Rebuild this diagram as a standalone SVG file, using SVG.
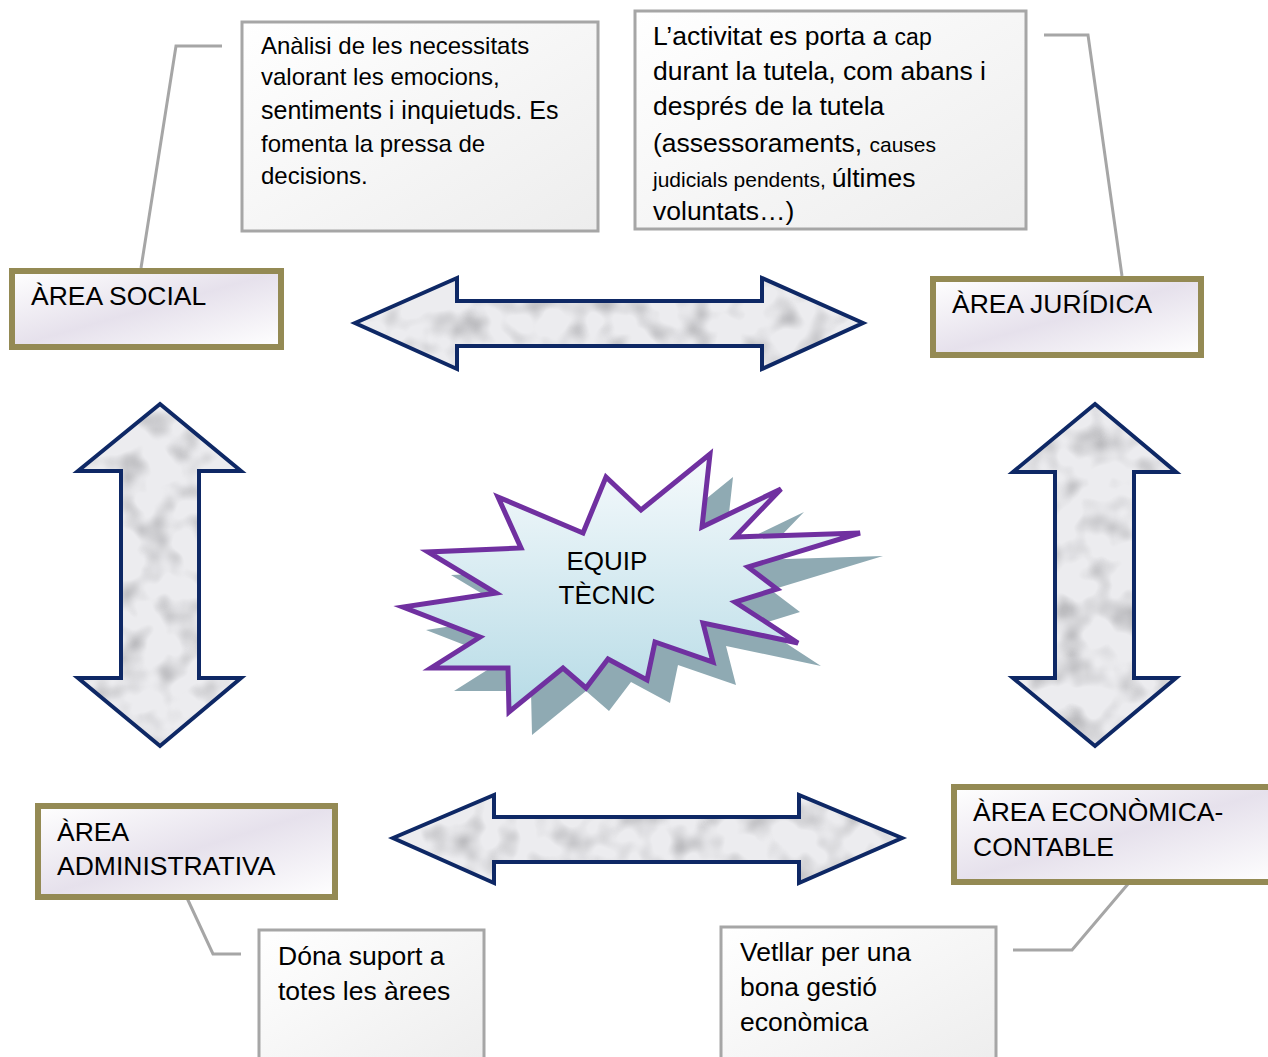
<svg xmlns="http://www.w3.org/2000/svg" width="1268" height="1057" viewBox="0 0 1268 1057">
<defs>
<style>
text{font-family:"Liberation Sans",Arial,sans-serif;fill:#000}
.tb{stroke:#A6A6A6;stroke-width:3;fill:url(#tbg)}
.ab{stroke:#948A54;stroke-width:6;fill:url(#abg)}
.conn{fill:none;stroke:#A6A6A6;stroke-width:3}
.arf{fill:#ECECEF;stroke:none;filter:url(#marble)}
.ars{fill:none;stroke:#0E2865;stroke-width:4;stroke-linejoin:miter}
</style>
<linearGradient id="tbg" x1="0" y1="0" x2="1" y2="1">
<stop offset="0" stop-color="#FFFFFF"/><stop offset="1" stop-color="#EDEDED"/>
</linearGradient>
<linearGradient id="abg" x1="0" y1="0" x2="1" y2="1">
<stop offset="0" stop-color="#FFFFFF"/><stop offset="0.5" stop-color="#E6E1EC"/><stop offset="1" stop-color="#FFFFFF"/>
</linearGradient>
<linearGradient id="starg" x1="0" y1="0" x2="0" y2="1">
<stop offset="0" stop-color="#F6FAFC"/><stop offset="1" stop-color="#B6DBE6"/>
</linearGradient>
<filter id="marble" x="0" y="0" width="100%" height="100%">
<feTurbulence type="fractalNoise" baseFrequency="0.035" numOctaves="2" seed="11" result="n"/>
<feColorMatrix in="n" type="matrix" values="0 0 0 0 0.5  0 0 0 0 0.5  0 0 0 0 0.52  2.6 0 0 0 -1.15" result="spots"/>
<feComposite in="spots" in2="SourceGraphic" operator="in" result="s"/>
<feMerge><feMergeNode in="SourceGraphic"/><feMergeNode in="s"/></feMerge>
</filter>
</defs>
<rect width="1268" height="1057" fill="#FFFFFF"/>

<g id="connectors">
<polyline class="conn" points="222,46 176,46 141,268"/>
<polyline class="conn" points="1044,35 1088,35 1122,276"/>
<polyline class="conn" points="187,898 213,954 241,954"/>
<polyline class="conn" points="1128,884 1072,950 1013,950"/>
<g id="arrow-top">
<path class="arf" d="M355,323 L457,278 L457,301 L762,301 L762,278 L863,323 L762,369 L762,346 L457,346 L457,369 Z"/>
<path class="ars" d="M355,323 L457,278 L457,301 L762,301 L762,278 L863,323 L762,369 L762,346 L457,346 L457,369 Z"/>
</g>
<g id="arrow-bottom">
<path class="arf" d="M393,838 L494,795 L494,817 L799,817 L799,795 L902,838 L799,883 L799,862 L494,862 L494,883 Z"/>
<path class="ars" d="M393,838 L494,795 L494,817 L799,817 L799,795 L902,838 L799,883 L799,862 L494,862 L494,883 Z"/>
</g>
<g id="arrow-left">
<path class="arf" d="M160,404 L241,471 L199,471 L199,678 L241,678 L160,746 L78,678 L121,678 L121,471 L78,471 Z"/>
<path class="ars" d="M160,404 L241,471 L199,471 L199,678 L241,678 L160,746 L78,678 L121,678 L121,471 L78,471 Z"/>
</g>
<g id="arrow-right">
<path class="arf" d="M1095,404 L1176,472 L1134,472 L1134,678 L1176,678 L1095,746 L1013,678 L1055,678 L1055,472 L1013,472 Z"/>
<path class="ars" d="M1095,404 L1176,472 L1134,472 L1134,678 L1176,678 L1095,746 L1013,678 L1055,678 L1055,472 L1013,472 Z"/>
</g>
</g>

<g id="note-social">
<rect class="tb" x="242" y="22" width="356" height="209"/>
<text x="261" y="54" font-size="24">Anàlisi de les necessitats</text>
<text x="261" y="85" font-size="24">valorant les emocions,</text>
<text x="261" y="119" font-size="25">sentiments i inquietuds. Es</text>
<text x="261" y="152" font-size="24">fomenta la pressa de</text>
<text x="261" y="184" font-size="24">decisions.</text>
</g>

<g id="note-juridica">
<rect class="tb" x="635" y="11" width="391" height="218"/>
<text x="653" y="45" font-size="26.5">L’activitat es porta a <tspan font-size="23">cap</tspan></text>
<text x="653" y="80" font-size="26.5">durant la tutela, com abans i</text>
<text x="653" y="115" font-size="26.5">després de la tutela</text>
<text x="653" y="152" font-size="26.5">(assessoraments, <tspan font-size="21">causes</tspan></text>
<text x="653" y="187"><tspan font-size="21">judicials pendents, </tspan><tspan font-size="26.5">últimes</tspan></text>
<text x="653" y="220" font-size="26.5">voluntats…)</text>
</g>

<g id="note-admin">
<rect class="tb" x="259" y="930" width="225" height="140"/>
<text x="278" y="965" font-size="26.5">Dóna suport a</text>
<text x="278" y="1000" font-size="26.5">totes les àrees</text>
</g>

<g id="note-economica">
<rect class="tb" x="721" y="927" width="275" height="140"/>
<text x="740" y="961" font-size="26.5">Vetllar per una</text>
<text x="740" y="996" font-size="26.5">bona gestió</text>
<text x="740" y="1031" font-size="26.5">econòmica</text>
</g>

<g id="area-social">
<rect class="ab" x="12" y="271" width="269" height="76"/>
<text x="31" y="305" font-size="26.5">ÀREA SOCIAL</text>
</g>

<g id="area-juridica">
<rect class="ab" x="933" y="279" width="268" height="76"/>
<text x="952" y="313" font-size="26.5">ÀREA JURÍDICA</text>
</g>

<g id="area-administrativa">
<rect class="ab" x="38" y="806" width="297" height="91"/>
<text x="57" y="841" font-size="26.5">ÀREA</text>
<text x="57" y="875" font-size="26.5">ADMINISTRATIVA</text>
</g>

<g id="area-economica">
<rect class="ab" x="954" y="787" width="330" height="95"/>
<text x="973" y="821" font-size="26.5">ÀREA ECONÒMICA-</text>
<text x="973" y="856" font-size="26.5">CONTABLE</text>
</g>

<g id="equip-tecnic">
<polygon fill="#8FAAB3" transform="translate(23,23)" points="498,497 583,533 606,477 641,510 710,454 702,527 781,489 735,537 860,533 748,567 777,589 735,602 798,643 703,623 713,662 655,642 647,680 608,659 586,688 563,668 509,712 508,668 431,668 480,637 403,607 496,593 428,552 521,548"/>
<polygon fill="url(#starg)" stroke="#7030A0" stroke-width="5" stroke-linejoin="miter" points="498,497 583,533 606,477 641,510 710,454 702,527 781,489 735,537 860,533 748,567 777,589 735,602 798,643 703,623 713,662 655,642 647,680 608,659 586,688 563,668 509,712 508,668 431,668 480,637 403,607 496,593 428,552 521,548"/>
<text x="607" y="570" font-size="26" text-anchor="middle">EQUIP</text>
<text x="607" y="604" font-size="26" text-anchor="middle">TÈCNIC</text>
</g>
</svg>
